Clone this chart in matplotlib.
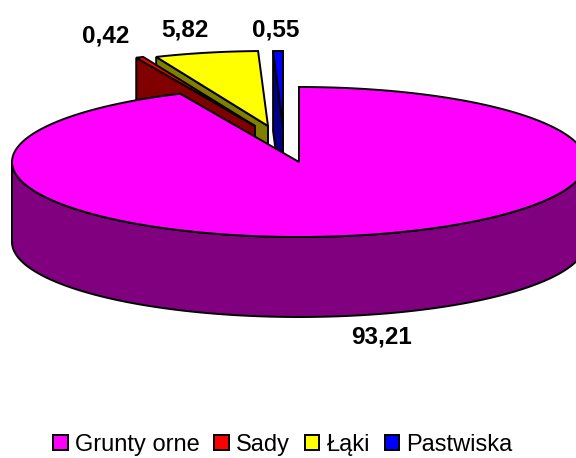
import numpy as np
import matplotlib
matplotlib.use("Agg")
import matplotlib.pyplot as plt
from matplotlib.patches import Patch

categories = ["Grunty orne", "Sady", "Łąki", "Pastwiska"]
values = [93.21, 0.42, 5.82, 0.55]
top_colors = ["#FF00FF", "#FF0000", "#FFFF00", "#0000FF"]
side_colors = ["#800080", "#800000", "#808000", "#000080"]

# layout (pixels)
CX, CY, RX, RY, DEPTH = 299, 162, 287, 75, 80
EXPLODE = [(0, 0), (-44, -36), (-31, -36), (-16, -36)]
LABEL_POS = [(382, 337), (106, 36), (185, 30), (276, 30)]
DRAW_ORDER = [3, 2, 1, 0]
LW = 1.4

plt.rcParams["font.family"] = ["Liberation Sans", "DejaVu Sans"]
fig = plt.figure(figsize=(5.76, 4.58), dpi=100)
ax = fig.add_axes([0, 0, 1, 1])
ax.set_xlim(0, 576)
ax.set_ylim(458, 0)
ax.axis("off")

total = sum(values)
edges = np.concatenate([[0], np.cumsum(values)]) / total * 2 * np.pi


def rim(t, cx, cy):
    return cx + RX * np.sin(t), cy - RY * np.cos(t)


for i in DRAW_ORDER:
    a0, a1 = edges[i], edges[i + 1]
    cx, cy = CX + EXPLODE[i][0], CY + EXPLODE[i][1]
    t = np.linspace(a0, a1, 400)
    x, y = rim(t, cx, cy)
    if i == 0:
        # outer wall: only the front half of the rim is visible
        tf = np.linspace(np.pi / 2, 3 * np.pi / 2, 300)
        fx, fy = rim(tf, cx, cy)
        ax.fill(np.r_[fx, fx[::-1]], np.r_[fy, fy[::-1] + DEPTH],
                fc=side_colors[i], ec="black", lw=LW, zorder=1 + DRAW_ORDER.index(i))
    else:
        # radial cut face on the side turned towards the viewer
        x0, y0 = rim(a0, cx, cy)
        ax.fill([x0, cx, cx, x0], [y0, cy, cy + DEPTH, y0 + DEPTH],
                fc=side_colors[i], ec="black", lw=LW, zorder=1 + DRAW_ORDER.index(i))
    ax.fill(np.r_[cx, x], np.r_[cy, y], fc=top_colors[i], ec="black",
            lw=LW, joinstyle="miter", zorder=1 + DRAW_ORDER.index(i))

for v, (lx, ly) in zip(values, LABEL_POS):
    ax.text(lx, ly, f"{v:.2f}".replace(".", ","), fontsize=17.5, fontweight="bold",
            ha="center", va="center", color="black", zorder=10)

handles = [Patch(fc=c, ec="black", lw=LW) for c in top_colors]
ax.legend(handles, categories, ncol=4, loc="center", frameon=False,
          bbox_to_anchor=(283 / 576, 1 - 445 / 458), fontsize=17,
          handlelength=0.62, handleheight=0.62, handletextpad=0.3,
          columnspacing=0.62, borderpad=0)

fig.savefig("out.png", dpi=100)
